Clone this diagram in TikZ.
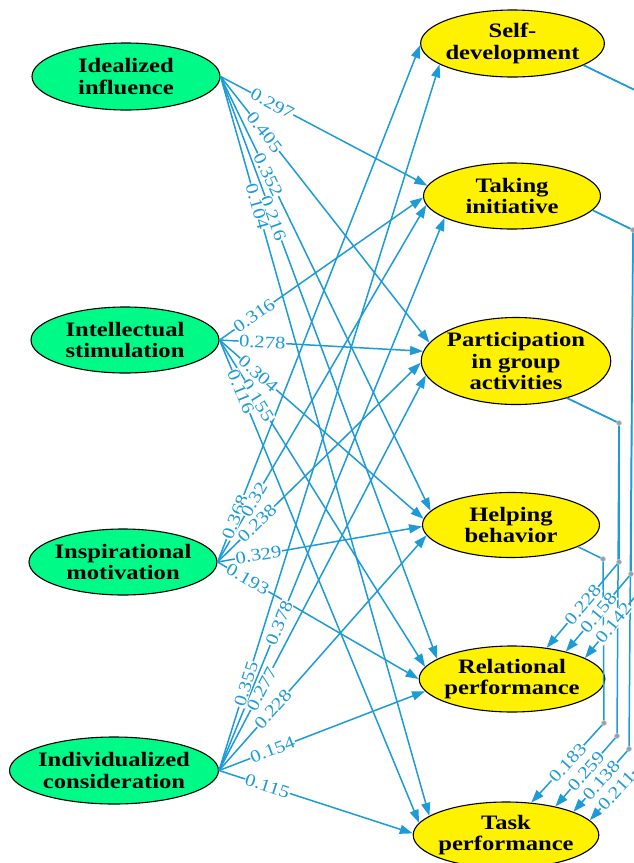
\documentclass[tikz,border=0pt]{standalone}
\usepackage{fontspec}
\newfontfamily\nodefont[FakeStretch=1.2]{Liberation Serif}
\newfontfamily\labfont[FakeStretch=1.18]{Liberation Serif}
\usetikzlibrary{shapes.geometric,arrows.meta}
\definecolor{eblue}{RGB}{28,155,215}
\definecolor{lgreen}{RGB}{0,250,135}
\definecolor{dotgray}{RGB}{150,160,170}
\begin{document}
\begin{tikzpicture}[x=1pt,y=-1pt,
  lat/.style={ellipse,draw=black,line width=1.1pt,fill=lgreen,inner sep=-2pt,align=center,
    font=\nodefont\fontsize{20.5}{21.5}\selectfont\bfseries},
  res/.style={lat,fill=yellow},
  edge/.style={draw=eblue,line width=1.5pt,-{Triangle[length=13pt,width=9pt]}},
  lbl/.style={sloped,fill=white,inner sep=0.5pt,text=eblue,
    font=\labfont\fontsize{17.5}{18}\selectfont},
  gdot/.style={circle,fill=dotgray,draw=black!20,line width=0.6pt,inner sep=0pt,minimum size=5pt}]

\useasboundingbox (0,0) rectangle (634,863);

% latent (left) nodes
\node[lat,minimum width=188pt,minimum height=67pt] (II) at (126,76.5) {Idealized\\influence};
\node[lat,minimum width=188pt,minimum height=66pt] (IS) at (125,340) {Intellectual\\stimulation};
\node[lat,minimum width=188pt,minimum height=66pt] (IM) at (123,562) {Inspirational\\motivation};
\node[lat,minimum width=204pt,minimum height=67pt] (IC) at (114,770.5) {Individualized\\consideration};

% outcome (right) nodes
\node[res,minimum width=175pt,minimum height=67pt] (SD) at (512.5,43.5) {Self-\\development};
\node[res,minimum width=177pt,minimum height=66pt] (TI) at (512,196) {Taking\\initiative};
\node[res,minimum width=189pt,minimum height=87pt] (PG) at (516,361) {Participation\\in group\\activities};
\node[res,minimum width=177pt,minimum height=65pt] (HB) at (511,525) {Helping\\behavior};
\node[res,minimum width=183pt,minimum height=66pt] (RP) at (512,679) {Relational\\performance};
\node[res,minimum width=176pt,minimum height=66pt] (TP) at (506,835) {Task\\performance};

% bend points on the right
\coordinate (sd1) at (643,94);
\coordinate (sd2) at (642,588);
\coordinate (sd3) at (643,762);
\coordinate (ti1) at (633,230);
\coordinate (ti2) at (631,574);
\coordinate (ti3) at (629,749);
\coordinate (pg1) at (619,423);
\coordinate (pg2) at (619,562);
\coordinate (pg3) at (617,736);
\coordinate (hb1) at (603,559);
\coordinate (hb2) at (604,723);

% left edges
\foreach \s/\t in {II/TI.173, II/PG.168, II/HB.170, II/RP.165, II/TP.166,
                   IS/TI.181, IS/PG.174, IS/HB.176, IS/RP.172, IS/TP.172,
                   IM/SD.181, IM/TI.186, IM/PG.181, IM/HB.181, IM/RP.180,
                   IC/SD.196, IC/TI.198, IC/PG.189, IC/HB.187, IC/RP.188, IC/TP.179}
  \draw[edge] (\s.east) -- (\t);

% right edges
\draw[edge] (SD.-17) -- (sd1) -- (sd2) -- (RP.16);
\draw[edge] (SD.-17) -- (sd1) -- (sd3) -- (TP.10);
\draw[edge] (TI.-10) -- (ti1) -- (ti2) -- (RP.27);
\draw[edge] (TI.-10) -- (ti1) -- (ti3) -- (TP.19);
\draw[edge] (PG.-36) -- (pg1) -- (pg2) -- (RP.42);
\draw[edge] (PG.-36) -- (pg1) -- (pg3) -- (TP.30);
\draw[edge] (HB.-18) -- (hb1) -- (hb2) -- (TP.52);

% labels of left edges (source / target / position / x shift / text)
\foreach \s/\t/\p/\x/\l in {II/TI.173/0.25/0/0.297, II/PG.168/0.21/0/0.405, II/HB.170/0.22/3/0.352,
                         II/RP.165/0.24/2/0.216, II/TP.166/0.19/-11/0.104,
                         IS/TI.181/0.17/0/0.316, IS/PG.174/0.21/0/0.278, IS/HB.176/0.19/0/0.304,
                         IS/RP.172/0.18/2/0.155, IS/TP.172/0.13/-12/0.116,
                         IM/SD.181/0.105/-10/0.368, IM/TI.186/0.16/6/0.32, IM/PG.181/0.17/7/0.238,
                         IM/HB.181/0.2/0/0.329, IM/RP.180/0.15/0/0.193,
                         IC/SD.196/0.14/-13/0.355, IC/TI.198/0.27/-2/0.378, IC/PG.189/0.22/-6/0.277,
                         IC/HB.187/0.26/0/0.228, IC/RP.188/0.26/0/0.154, IC/TP.179/0.25/0/0.115}
  \path (\s.east) -- node[lbl,pos=\p,xshift=\x pt]{\l} (\t);

% labels of right edges
\path (sd2) -- node[lbl]{0.142} (RP.16);
\path (sd3) -- node[lbl]{0.211} (TP.10);
\path (ti2) -- node[lbl]{0.158} (RP.27);
\path (ti3) -- node[lbl]{0.138} (TP.19);
\path (pg2) -- node[lbl]{0.228} (RP.42);
\path (pg3) -- node[lbl]{0.259} (TP.30);
\path (hb2) -- node[lbl]{0.183} (TP.52);

% bend dots
\foreach \c in {ti1,ti2,ti3,pg1,pg2,pg3,hb1,hb2}
  \node[gdot] at (\c) {};
\end{tikzpicture}
\end{document}
